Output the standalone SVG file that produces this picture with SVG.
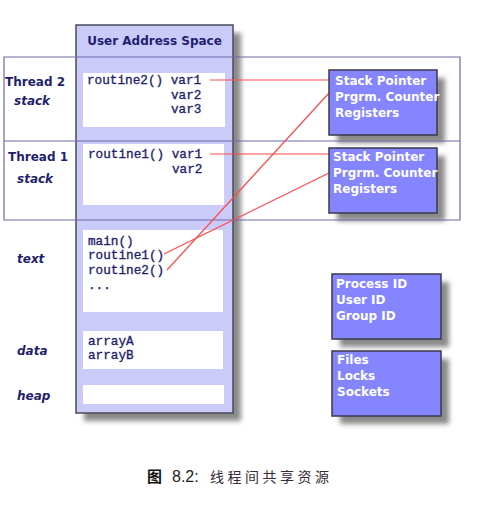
<svg xmlns="http://www.w3.org/2000/svg" width="496" height="510" viewBox="0 0 496 510">
<style>
.lbl{font-family:"DejaVu Sans",Verdana,sans-serif;font-weight:bold;font-size:12px;fill:#1f1f6e}
.it{font-style:italic}
.code{font-family:"Liberation Mono","Courier New",monospace;font-size:12.7px;fill:#1f1f6e;stroke:#1f1f6e;stroke-width:0.35}
.box{fill:#8585ff;stroke:#3a3a4a;stroke-width:1.5}
.btxt{font-family:"DejaVu Sans",Verdana,sans-serif;font-weight:bold;font-size:12px;fill:#ffffff}
.wb{fill:#ffffff}
.frame{stroke:#6a6aa8;stroke-width:1.2;fill:none}
.red{stroke:#ff4a4a;stroke-width:1.2;fill:none}
</style>
<defs>
<filter id="sh" x="-20%" y="-20%" width="150%" height="150%">
<feGaussianBlur stdDeviation="2.5"/>
</filter>
</defs>
<rect width="496" height="510" fill="#ffffff"/>
<!-- shadows -->
<rect x="84" y="33" width="157" height="388" fill="#8a8a8a" filter="url(#sh)"/>
<rect x="337" y="78" width="108" height="65" fill="#8a8a8a" filter="url(#sh)"/>
<rect x="337" y="156" width="108" height="65" fill="#8a8a8a" filter="url(#sh)"/>
<rect x="340" y="282" width="109" height="65" fill="#8a8a8a" filter="url(#sh)"/>
<rect x="340" y="359" width="109" height="65" fill="#8a8a8a" filter="url(#sh)"/>
<g id="address-space">
<rect x="76" y="25" width="157" height="388" fill="#cbcbfa" stroke="#4a4a5a" stroke-width="1.5"/>
<text class="lbl" x="154.5" y="45" text-anchor="middle">User Address Space</text>
</g>
<g id="frame">
<path class="frame" d="M4,57 H460 V220 H4 Z M4,141 H460"/>
</g>
<g id="thread2-stack">
<rect class="wb" x="83" y="73" width="142" height="54"/>
<text class="code" x="87" y="84">routine2() var1</text>
<text class="code" x="171" y="99">var2</text>
<text class="code" x="171" y="113">var3</text>
<text class="lbl" x="5" y="86">Thread 2</text>
<text class="lbl it" x="14" y="105">stack</text>
</g>
<g id="thread1-stack">
<rect class="wb" x="83" y="144" width="141" height="61"/>
<text class="code" x="88" y="158">routine1() var1</text>
<text class="code" x="172" y="173">var2</text>
<text class="lbl" x="8" y="161">Thread 1</text>
<text class="lbl it" x="17" y="183">stack</text>
</g>
<g id="text-seg">
<rect class="wb" x="83" y="230" width="140" height="82"/>
<text class="code" x="88" y="245">main()</text>
<text class="code" x="88" y="259">routine1()</text>
<text class="code" x="88" y="274">routine2()</text>
<text class="code" x="88" y="289">...</text>
<text class="lbl it" x="17" y="263">text</text>
</g>
<g id="data-seg">
<rect class="wb" x="83" y="331" width="140" height="38"/>
<text class="code" x="88" y="345">arrayA</text>
<text class="code" x="88" y="359">arrayB</text>
<text class="lbl it" x="17" y="355">data</text>
</g>
<g id="heap-seg">
<rect class="wb" x="83" y="385" width="141" height="19"/>
<text class="lbl it" x="17" y="400">heap</text>
</g>
<g id="connectors">
<line class="red" x1="210" y1="80" x2="329" y2="80"/>
<line class="red" x1="210" y1="154" x2="329" y2="154"/>
<line class="red" x1="164" y1="254" x2="329" y2="173"/>
<line class="red" x1="167" y1="270" x2="329" y2="93"/>
</g>
<g id="regs2">
<rect class="box" x="329" y="70" width="108" height="65"/>
<text class="btxt" x="335" y="85">Stack Pointer</text>
<text class="btxt" x="335" y="101">Prgrm. Counter</text>
<text class="btxt" x="335" y="117">Registers</text>
</g>
<g id="regs1">
<rect class="box" x="329" y="148" width="108" height="65"/>
<text class="btxt" x="333" y="161">Stack Pointer</text>
<text class="btxt" x="333" y="177">Prgrm. Counter</text>
<text class="btxt" x="333" y="193">Registers</text>
</g>
<g id="ids">
<rect class="box" x="332" y="274" width="109" height="65"/>
<text class="btxt" x="336" y="288">Process ID</text>
<text class="btxt" x="336" y="304">User ID</text>
<text class="btxt" x="336" y="320">Group ID</text>
</g>
<g id="files">
<rect class="box" x="332" y="351" width="109" height="65"/>
<text class="btxt" x="337" y="364">Files</text>
<text class="btxt" x="337" y="380">Locks</text>
<text class="btxt" x="337" y="396">Sockets</text>
</g>
<g id="caption">
<text x="147" y="482" font-family="'Noto Sans CJK SC',sans-serif" font-size="15" font-weight="bold" fill="#111">图</text>
<text x="172" y="482" font-family="'Liberation Sans',Arial,sans-serif" font-size="16" fill="#222">8.2:</text>
<text x="210" y="482" font-family="'Noto Sans CJK SC',sans-serif" font-size="14" letter-spacing="3.5" fill="#3a2a3a">线程间共享资源</text>
</g>
</svg>
